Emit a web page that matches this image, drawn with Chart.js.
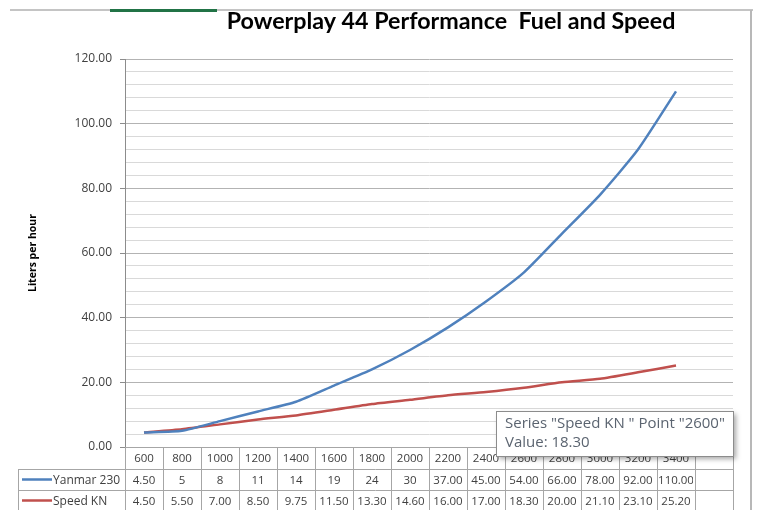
<!DOCTYPE html>
<html>
<head>
<meta charset="utf-8">
<script src="https://cdn.jsdelivr.net/npm/chart.js@4.4.1/dist/chart.umd.min.js"></script>
<style>
  html, body { margin: 0; padding: 0; background: #fff; }
  #c { display: block; }
</style>
</head>
<body>
<canvas id="c" width="757" height="510"></canvas>
<script>
// engine rpm, last column is an empty one in the sheet
const rpmLabels = ['600', '800', '1000', '1200', '1400', '1600', '1800', '2000', '2200', '2400', '2600', '2800', '3000', '3200', '3400', ''];
const yanmar230 = [4.5, 5, 8, 11, 14, 19, 24, 30, 37, 45, 54, 66, 78, 92, 110, null];
const speedKn = [4.5, 5.5, 7, 8.5, 9.75, 11.5, 13.3, 14.6, 16, 17, 18.3, 20, 21.1, 23.1, 25.2, null];
// decimals shown in the data table cells
const yanmarDecimals = [2, 0, 0, 0, 0, 0, 0, 0, 2, 2, 2, 2, 2, 2, 2];
const speedDecimals = [2, 2, 2, 2, 2, 2, 2, 2, 2, 2, 2, 2, 2, 2, 2];
const hoverIndex = 10; // the point under the mouse in the screenshot

const BLUE = '#4f81bd';
const RED = '#c0504d';
const TXT = '#404040';

const series = [
  { name: 'Yanmar 230', values: yanmar230, dec: yanmarDecimals, color: BLUE },
  { name: 'Speed KN', values: speedKn, dec: speedDecimals, color: RED }
];

// spreadsheet frame, title, axis title, data table and the hover box
const extras = {
  id: 'extras',
  afterDraw(chart) {
    const ctx = chart.ctx;
    const x = chart.scales.x;
    const n = rpmLabels.length;
    const colW = (x.right - x.left) / n;
    const top = chart.chartArea.bottom;
    const rows = [top, top + 22, top + 43, top + 64];

    ctx.save();

    // sheet frame
    ctx.fillStyle = '#c4c4c4';
    ctx.fillRect(10, 9, 743, 2);
    ctx.fillStyle = '#217346';
    ctx.fillRect(110, 9, 107, 3);
    ctx.fillStyle = '#b8b8b8';
    ctx.fillRect(750, 10, 2, 500);

    // title
    const title = 'Powerplay 44 Performance  Fuel and Speed';
    ctx.fillStyle = '#000';
    ctx.font = 'bold 20px Lato';
    let w = ctx.measureText(title).width;
    const fs = 20 * 449 / w;
    ctx.font = 'bold ' + fs.toFixed(2) + 'px Lato';
    ctx.textAlign = 'center';
    ctx.textBaseline = 'alphabetic';
    ctx.fillText(title, 451, 29);

    // y axis title
    ctx.save();
    ctx.translate(33, (chart.chartArea.top + chart.chartArea.bottom) / 2);
    ctx.rotate(-Math.PI / 2);
    ctx.font = 'bold 10.5px "Open Sans"';
    ctx.textBaseline = 'middle';
    ctx.fillText('Liters per hour', 0, 0);
    ctx.restore();

    // data table grid
    ctx.strokeStyle = '#a6a6a6';
    ctx.lineWidth = 1;
    ctx.beginPath();
    rows.forEach((y, i) => {
      const l = i === 0 ? x.left : 18;
      ctx.moveTo(l, Math.round(y) + 0.5);
      ctx.lineTo(x.right, Math.round(y) + 0.5);
    });
    for (let i = 0; i <= n; i++) {
      const cx = Math.round(x.left + i * colW) + 0.5;
      ctx.moveTo(cx, rows[0]);
      ctx.lineTo(cx, rows[3]);
    }
    ctx.moveTo(18.5, rows[1]);
    ctx.lineTo(18.5, rows[3]);
    ctx.stroke();

    ctx.font = '11.5px "Open Sans"';
    ctx.fillStyle = TXT;
    ctx.textAlign = 'center';
    ctx.textBaseline = 'middle';
    rpmLabels.forEach((lab, i) => {
      ctx.fillText(lab, x.getPixelForValue(i), (rows[0] + rows[1]) / 2 + 1);
    });

    series.forEach((s, r) => {
      const yMid = (rows[r + 1] + rows[r + 2]) / 2 + 1;
      s.values.forEach((v, i) => {
        if (v === null) return;
        const cl = x.left + i * colW;
        ctx.save();
        ctx.beginPath();
        ctx.rect(cl + 2, rows[r + 1], colW - 4, 21);
        ctx.clip();
        ctx.fillText(v.toFixed(s.dec[i]), x.getPixelForValue(i), yMid);
        ctx.restore();
      });
      // legend key
      ctx.strokeStyle = s.color;
      ctx.lineWidth = 2.5;
      ctx.beginPath();
      ctx.moveTo(22, yMid - 1);
      ctx.lineTo(52, yMid - 1);
      ctx.stroke();
      ctx.textAlign = 'left';
      ctx.font = '12px "Open Sans"';
      ctx.fillText(s.name, 53, yMid);
      ctx.font = '11.5px "Open Sans"';
      ctx.textAlign = 'center';
    });

    // hover box from the screenshot
    const bx = 496, by = 411, bw = 237, bh = 45;
    ctx.save();
    ctx.shadowColor = 'rgba(0,0,0,0.35)';
    ctx.shadowBlur = 5;
    ctx.shadowOffsetX = 3;
    ctx.shadowOffsetY = 3;
    ctx.fillStyle = '#fff';
    ctx.fillRect(bx, by, bw, bh);
    ctx.restore();
    ctx.strokeStyle = '#8c8c8c';
    ctx.lineWidth = 1;
    ctx.strokeRect(bx + 0.5, by + 0.5, bw, bh);
    const s = series[1];
    const line1 = 'Series "' + 'Speed KN ' + '" Point "' + rpmLabels[hoverIndex] + '"';
    const line2 = 'Value: ' + s.values[hoverIndex].toFixed(2);
    ctx.font = '13px "Open Sans"';
    w = ctx.measureText(line1).width;
    ctx.font = (13 * 220 / w).toFixed(2) + 'px "Open Sans"';
    ctx.fillStyle = '#5b6470';
    ctx.textAlign = 'left';
    ctx.textBaseline = 'alphabetic';
    ctx.fillText(line1, 505, 428);
    ctx.fillText(line2, 505, 447);

    ctx.restore();
  }
};

new Chart(document.getElementById('c'), {
  type: 'line',
  data: {
    labels: rpmLabels,
    datasets: series.map(s => ({
      label: s.name,
      data: s.values,
      borderColor: s.color,
      backgroundColor: s.color,
      borderWidth: 2.5,
      pointRadius: 0,
      tension: 0.2,
      fill: false
    }))
  },
  options: {
    responsive: false,
    animation: false,
    layout: { padding: { left: 0, right: 24, top: 59, bottom: 63 } },
    plugins: {
      legend: { display: false },
      title: { display: false },
      tooltip: { enabled: false }
    },
    scales: {
      x: {
        offset: true,
        grid: { display: false },
        ticks: { display: false },
        border: { color: '#8c8c8c' },
        afterFit(s) { s.height = 0; }
      },
      y: {
        min: 0,
        max: 120,
        afterFit(s) { s.width = 125; },
        ticks: {
          stepSize: 4,
          autoSkip: false,
          padding: 8,
          color: '#404040',
          font: { family: 'Open Sans', size: 12 },
          callback: v => (v % 20 === 0 ? v.toFixed(2) : '')
        },
        grid: {
          color: c => (c.tick && c.tick.value % 20 === 0 ? '#b3b3b3' : '#d9d9d9'),
          tickColor: c => (c.tick && c.tick.value % 20 === 0 ? '#8c8c8c' : 'rgba(0,0,0,0)'),
          tickLength: 5
        },
        border: { color: '#8c8c8c' }
      }
    }
  },
  plugins: [extras]
});
</script>
</body>
</html>
